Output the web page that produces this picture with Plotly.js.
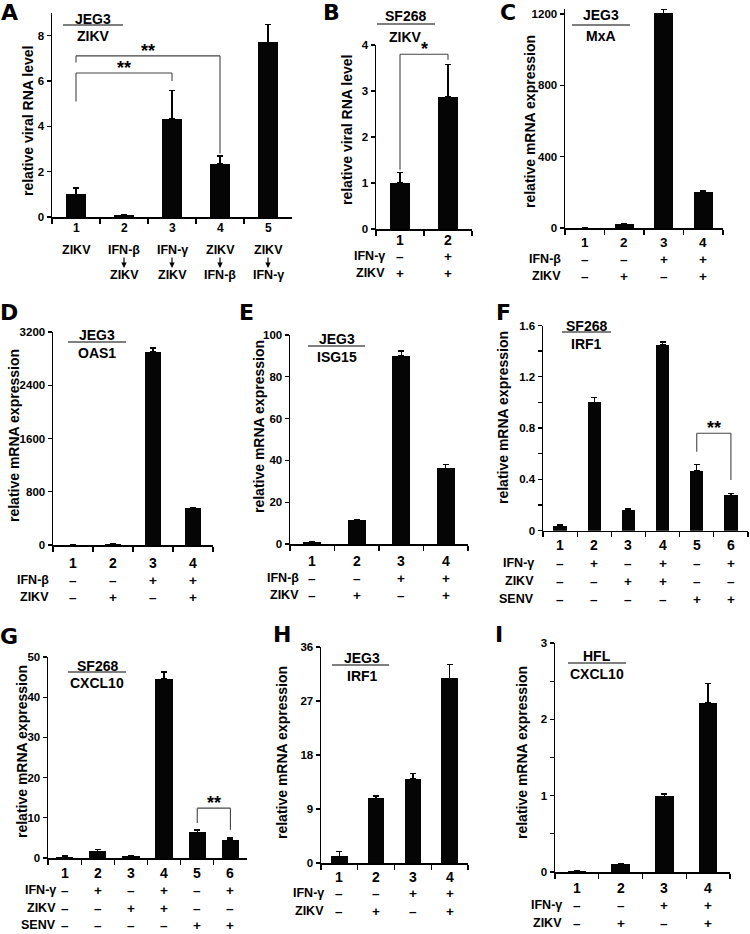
<!DOCTYPE html>
<html><head><meta charset="utf-8">
<script src="https://cdn.plot.ly/plotly-3.0.1.min.js"></script>
<style>html,body{margin:0;padding:0;background:#fff}</style>
</head><body><div id="chart" style="width:750px;height:934px"></div>
<script>
// ---------------- DATA ----------------
const A_cats=['1','2','3','4','5'];
const A_vals=[1.0,0.07,4.34,2.36,7.71];
const A_err=[0.28,0.03,1.24,0.33,0.79];
const A_ticks=[0,2,4,6,8];
const A_rows=[['ZIKV','IFN-β','IFN-γ','ZIKV','ZIKV'],['','↓','↓','↓','↓'],['','ZIKV','ZIKV','IFN-β','IFN-γ']];
const A_brackets=[{from:'1',to:'4',top:7.11,left:6.82,right:2.8,label:'**'},{from:'1',to:'3',top:6.35,left:5.1,right:6.0,label:'**'}];

const B_cats=['1','2'];
const B_vals=[1.0,2.88];
const B_err=[0.23,0.69];
const B_ticks=[0,1,2,3,4];
const B_headers=['IFN-γ','ZIKV'];
const B_rows=[['–','+'],['+','+']];
const B_brackets=[{from:'1',to:'2',top:3.8,left:1.29,right:3.68,label:'*'}];

const C_cats=['1','2','3','4'];
const C_vals=[1,20,1203,201];
const C_err=[0,4,22,6];
const C_ticks=[0,400,800,1200];
const C_headers=['IFN-β','ZIKV'];
const C_rows=[['–','–','+','+'],['–','+','–','+']];

const D_cats=['1','2','3','4'];
const D_vals=[2,20,2900,550];
const D_err=[0,3,60,15];
const D_ticks=[0,800,1600,2400,3200];
const D_headers=['IFN-β','ZIKV'];
const D_rows=[['–','–','+','+'],['–','+','–','+']];

const E_cats=['1','2','3','4'];
const E_vals=[0.9,11.3,90,36.2];
const E_err=[0.3,0.4,2.4,1.9];
const E_ticks=[0,20,40,60,80,100];
const E_headers=['IFN-β','ZIKV'];
const E_rows=[['–','–','+','+'],['–','+','–','+']];

const F_cats=['1','2','3','4','5','6'];
const F_vals=[0.04,1.0,0.16,1.45,0.465,0.275];
const F_err=[0.005,0.04,0.008,0.02,0.052,0.015];
const F_ticks=[0,0.2,0.4,0.6,0.8,1.0,1.2,1.4,1.6];
const F_tickText=['0','','0.4','','0.8','','1.2','','1.6'];
const F_headers=['IFN-γ','ZIKV','SENV'];
const F_rows=[['–','+','–','+','–','+'],['–','–','+','+','–','–'],['–','–','–','–','+','+']];
const F_brackets=[{from:'5',to:'6',top:0.76,left:0.615,right:0.395,label:'**'}];

const G_cats=['1','2','3','4','5','6'];
const G_vals=[0.35,1.65,0.4,44.6,6.4,4.5];
const G_err=[0.1,0.4,0.1,1.7,0.6,0.45];
const G_ticks=[0,10,20,30,40,50];
const G_headers=['IFN-γ','ZIKV','SENV'];
const G_rows=[['–','+','–','+','–','+'],['–','–','+','+','–','–'],['–','–','–','–','+','+']];
const G_brackets=[{from:'5',to:'6',top:12.4,left:8.7,right:7.0,label:'**'}];

const H_cats=['1','2','3','4'];
const H_vals=[1.1,10.8,14.05,30.8];
const H_err=[0.8,0.35,0.85,2.3];
const H_ticks=[0,9,18,27,36];
const H_headers=['IFN-γ','ZIKV'];
const H_rows=[['–','–','+','+'],['–','+','–','+']];

const I_cats=['1','2','3','4'];
const I_vals=[0.01,0.1,0.99,2.22];
const I_err=[0.003,0.01,0.03,0.25];
const I_ticks=[0,0.5,1,1.5,2,2.5,3];
const I_tickText=['0','','1','','2','','3'];
const I_headers=['IFN-γ','ZIKV'];
const I_rows=[['–','–','+','+'],['–','+','–','+']];

// ---------------- LAYOUT ----------------
const W=750,H=934;
const FONT='Liberation Sans, Arial, sans-serif';
const fx=p=>p/W, fy=p=>1-p/H;
const VIRAL='relative viral RNA level', MRNA='relative mRNA expression';

const panels=[
 {id:'A',cats:A_cats,vals:A_vals,err:A_err,ticks:A_ticks,rows:A_rows,brackets:A_brackets,cell:['JEG3','ZIKV'],ytitle:VIRAL,
  pos:{x0:52,x1:292,yt:13,yb:217,ymax:9,bw:0.42,tx:28,ty:121,numY:228,rowY:[250,262,275],rowFont:12.5,numFont:12,cx:93,cellY:[19,25,36],cl:[63,123],letter:[9,13]}},
 {id:'B',cats:B_cats,vals:B_vals,err:B_err,ticks:B_ticks,headers:B_headers,rows:B_rows,brackets:B_brackets,cell:['SF268','ZIKV'],ytitle:VIRAL,
  pos:{x0:376,x1:472,yt:45,yb:229,ymax:4,bw:0.42,tx:347,ty:130,numY:240,rowY:[256,273],hdr:386,cx:405,cellY:[16,24,37],cl:[377,435],letter:[331,13]}},
 {id:'C',cats:C_cats,vals:C_vals,err:C_err,ticks:C_ticks,headers:C_headers,rows:C_rows,cell:['JEG3','MxA'],ytitle:MRNA,
  pos:{x0:565,x1:723,yt:8.6,yb:228,ymax:1230,bw:0.48,tx:530,ty:122,numY:243,rowY:[259,276],numFont:13.5,cx:601,hdr:562,cellY:[15,25,36],cl:[572,630],letter:[508,13]}},
 {id:'D',cats:D_cats,vals:D_vals,err:D_err,ticks:D_ticks,headers:D_headers,rows:D_rows,cell:['JEG3','OAS1'],ytitle:MRNA,
  pos:{x0:53,x1:213,yt:332,yb:545,ymax:3200,bw:0.42,tx:14,ty:436,numY:563,rowY:[580,597],hdr:50,cx:97,cellY:[335,342,353],cl:[68,126],letter:[9,312]}},
 {id:'E',cats:E_cats,vals:E_vals,err:E_err,ticks:E_ticks,headers:E_headers,rows:E_rows,cell:['JEG3','ISG15'],ytitle:MRNA,
  pos:{x0:290,x1:468,yt:335,yb:544,ymax:100,bw:0.41,tx:259,ty:427,numY:561,rowY:[578,595],hdr:300,cx:337,cellY:[339,346,357],cl:[308,365],letter:[247,312]}},
 {id:'F',cats:F_cats,vals:F_vals,err:F_err,ticks:F_ticks,tickText:F_tickText,headers:F_headers,rows:F_rows,brackets:F_brackets,cell:['SF268','IRF1'],ytitle:MRNA,
  pos:{x0:543,x1:748,yt:325.5,yb:530.7,ymax:1.6,bw:0.39,tx:503,ty:418,numY:545,rowY:[563,581,599],hdr:535,cx:586,cellY:[326,332,344],cl:[562,611],letter:[503,312]}},
 {id:'G',cats:G_cats,vals:G_vals,err:G_err,ticks:G_ticks,headers:G_headers,rows:G_rows,brackets:G_brackets,cell:['SF268','CXCL10'],ytitle:MRNA,
  pos:{x0:48,x1:247,yt:657,yb:858,ymax:50,bw:0.52,tx:22,ty:752,numY:873,rowY:[890,908,925],hdr:57,cx:97,cellY:[666,672,683],cl:[68,126],letter:[9,636]}},
 {id:'H',cats:H_cats,vals:H_vals,err:H_err,ticks:H_ticks,headers:H_headers,rows:H_rows,cell:['JEG3','IRF1'],ytitle:MRNA,
  pos:{x0:321,x1:468,yt:647,yb:863,ymax:36,bw:0.45,tx:282,ty:753,numY:877,rowY:[893,911],hdr:325,cx:362,cellY:[658,665,676],cl:[332,389],letter:[282,634]}},
 {id:'I',cats:I_cats,vals:I_vals,err:I_err,ticks:I_ticks,tickText:I_tickText,headers:I_headers,rows:I_rows,cell:['HFL','CXCL10'],ytitle:MRNA,
  pos:{x0:555,x1:730,yt:643,yb:872,ymax:3,bw:0.42,tx:522,ty:753,numY:888,rowY:[905,923],hdr:563,cx:597,cellY:[656,663,674],cl:[568,626],letter:[499,634]}}
];

const data=[],annotations=[],shapes=[];
const layout={width:W,height:H,margin:{l:0,r:0,t:0,b:0},paper_bgcolor:'#fff',plot_bgcolor:'rgba(0,0,0,0)',
  showlegend:false,bargap:0,font:{family:FONT,color:'#000'}};
const bold=(s)=>({family:FONT,size:s,color:'#000',weight:'bold'});
const txt=(text,xref,x,py,size,extra)=>Object.assign({text:'<b>'+text+'</b>',xref:xref,x:x,yref:'paper',y:fy(py),showarrow:false,
  xanchor:'center',yanchor:'middle',borderpad:0,font:bold(size)},extra||{});

panels.forEach((p,i)=>{
  const n=i+1,s=n===1?'':String(n);
  const xa='x'+s,ya='y'+s,q=p.pos,N=p.cats.length;
  data.push({type:'bar',x:p.cats,y:p.vals,xaxis:xa,yaxis:ya,width:q.bw,marker:{color:'#050505',line:{width:0}},
    error_y:{type:'data',symmetric:false,array:p.err,arrayminus:p.err.map(()=>0),color:'#050505',thickness:1.4,width:3},
    hoverinfo:'skip'});
  layout['xaxis'+s]={domain:[fx(q.x0),fx(q.x1)],anchor:ya,type:'category',range:[-0.5,N-0.5],autorange:false,tickson:'boundaries',ticks:'outside',ticklen:5,
    tickwidth:1.3,tickcolor:'#000',showline:true,linecolor:'#000',linewidth:1.5,showticklabels:false,showgrid:false,zeroline:false,fixedrange:true};
  layout['yaxis'+s]={domain:[fy(q.yb),fy(q.yt)],anchor:xa,range:[0,q.ymax],autorange:false,tickmode:'array',tickvals:p.ticks,
    ticktext:p.tickText||p.ticks.map(String),ticks:'outside',ticklen:4,tickwidth:1.3,tickcolor:'#000',showline:true,
    linecolor:'#000',linewidth:1.5,showgrid:false,zeroline:false,tickfont:bold(11.5),fixedrange:true};
  // y title
  annotations.push(txt(p.ytitle,'paper',fx(q.tx),q.ty,14,{textangle:-90}));
  // category numbers (x by category index)
  p.cats.forEach((c,k)=>annotations.push(txt(c,xa,k,q.numY,q.numFont||14)));
  // condition rows; a '↓' entry is drawn as a small arrow between the lines
  p.rows.forEach((row,r)=>row.forEach((v,k)=>{
    if(!v) return;
    if(v==='↓'){
      annotations.push({text:'',xref:xa,x:k,yref:'paper',y:fy(q.rowY[r]+6),showarrow:true,ax:0,ay:-12,axref:'pixel',ayref:'pixel',
        arrowhead:2,arrowsize:0.9,arrowwidth:1.2,arrowcolor:'#000',standoff:0,startstandoff:0});
    } else annotations.push(txt(v,xa,k,q.rowY[r],q.rowFont||13.5));
  }));
  if(p.headers) p.headers.forEach((h,r)=>annotations.push(txt(h,'paper',fx(q.hdr),q.rowY[r],12.5,{xanchor:'right'})));
  // cell / gene label
  annotations.push(txt(p.cell[0],'paper',fx(q.cx),q.cellY[0],14));
  annotations.push(txt(p.cell[1],'paper',fx(q.cx),q.cellY[2],14));
  shapes.push({type:'line',xref:'paper',yref:'paper',x0:fx(q.cl[0]),x1:fx(q.cl[1]),y0:fy(q.cellY[1]),y1:fy(q.cellY[1]),line:{color:'#000',width:1.2}});
  // panel letter
  annotations.push({text:'<b>'+p.id+'</b>',xref:'paper',yref:'paper',x:fx(q.letter[0]),y:fy(q.letter[1]),showarrow:false,xanchor:'center',yanchor:'middle',
    font:{family:'DejaVu Sans, Liberation Sans, sans-serif',size:22,weight:'bold',color:'#000'}});
  // significance brackets
  (p.brackets||[]).forEach(b=>{
    const i0=p.cats.indexOf(b.from),i1=p.cats.indexOf(b.to);
    const L={color:'#444',width:1.1};
    shapes.push({type:'line',xref:xa,yref:ya,x0:i0,x1:i1,y0:b.top,y1:b.top,line:L});
    shapes.push({type:'line',xref:xa,yref:ya,x0:i0,x1:i0,y0:b.left,y1:b.top,line:L});
    shapes.push({type:'line',xref:xa,yref:ya,x0:i1,x1:i1,y0:b.right,y1:b.top,line:L});
    annotations.push({text:'<b>'+b.label+'</b>',xref:xa,yref:ya,x:(i0+i1)/2,y:b.top,yanchor:'bottom',yshift:-7,showarrow:false,font:bold(18)});
  });
});
layout.annotations=annotations;layout.shapes=shapes;
Plotly.newPlot('chart',data,layout,{staticPlot:true,displayModeBar:false});
</script></body></html>
